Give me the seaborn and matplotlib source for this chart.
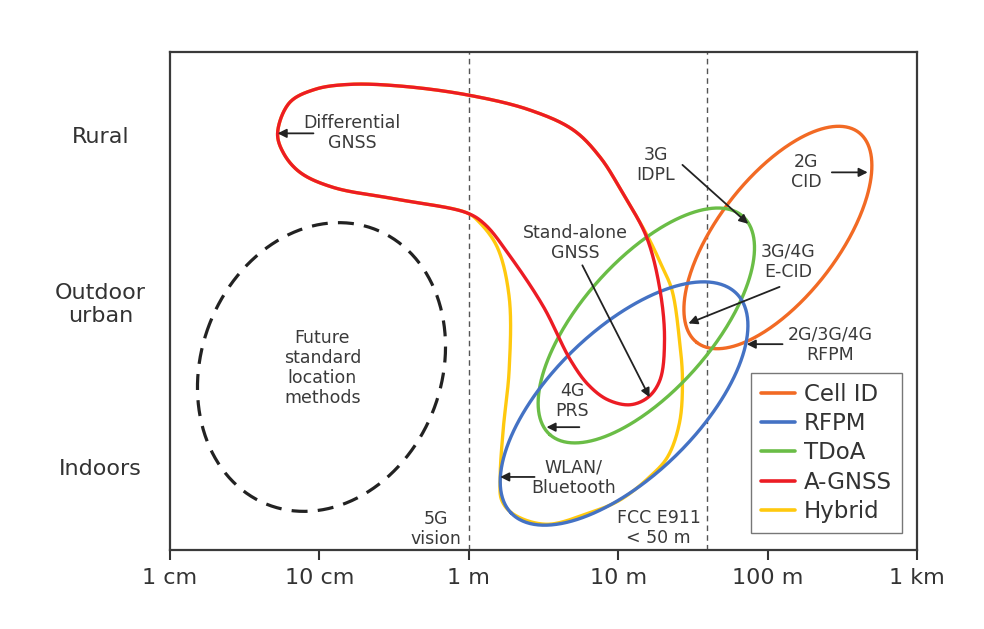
import numpy as np
import pandas as pd
import seaborn as sns
import matplotlib.pyplot as plt
from matplotlib.lines import Line2D
from matplotlib.ticker import NullLocator

# ---------------- data (x: log10 of accuracy in metres, y: environment level) ----------------
methods = ["Cell ID", "RFPM", "TDoA", "A-GNSS", "Hybrid"]
colors = ["#F26A24", "#4472C4", "#6ABD46", "#EC1C24", "#FFC90E"]

x_ticks_m = [0.01, 0.1, 1, 10, 100, 1000]
x_tick_labels = ["1 cm", "10 cm", "1 m", "10 m", "100 m", "1 km"]
y_ticks = [1, 3, 5]
y_tick_labels = ["Indoors", "Outdoor\nurban", "Rural"]

# boundary points
cellid_logd = [2.48, 2.62, 2.69, 2.67, 2.53, 2.33, 2.04, 1.82, 1.65, 1.53, 1.45, 1.43, 1.48, 1.59, 1.73, 2.04, 2.26]
cellid_lvl = [5.10, 5.02, 4.66, 4.25, 3.70, 3.22, 2.67, 2.49, 2.45, 2.51, 2.71, 3.01, 3.31, 3.73, 4.18, 4.73, 5.02]

rfpm_logd = [0.21, 0.22, 0.30, 0.52, 0.81, 1.15, 1.37, 1.59, 1.75, 1.84, 1.86, 1.82, 1.68, 1.55, 1.37, 1.15, 0.95, 0.66, 0.48, 0.32, 0.24]
rfpm_lvl = [0.88, 0.60, 0.43, 0.31, 0.45, 0.76, 1.08, 1.57, 1.99, 2.41, 2.73, 3.05, 3.20, 3.23, 3.19, 3.01, 2.77, 2.33, 1.93, 1.53, 1.20]

tdoa_logd = [1.59, 1.75, 1.86, 1.90, 1.86, 1.78, 1.59, 1.26, 0.93, 0.72, 0.56, 0.48, 0.46, 0.51, 0.61, 0.83, 1.17, 1.37]
tdoa_lvl = [4.13, 4.10, 3.89, 3.53, 3.13, 2.87, 2.33, 1.72, 1.41, 1.30, 1.36, 1.57, 1.89, 2.23, 2.61, 3.13, 3.71, 4.01]

agnss_logd = [-1.28, -1.20, -1.03, -0.80, -0.46, 0.00, 0.41, 0.70, 0.88, 1.03, 1.19, 1.28, 1.31, 1.28, 1.20,
              1.08, 0.93, 0.80, 0.68, 0.50, 0.28, 0.11, -0.01, -0.46, -0.91, -1.13, -1.24]
agnss_lvl = [5.02, 5.39, 5.55, 5.61, 5.59, 5.48, 5.30, 5.06, 4.73, 4.30, 3.77, 3.13, 2.53, 2.05, 1.84,
             1.75, 1.81, 1.99, 2.29, 2.93, 3.53, 3.92, 4.06, 4.22, 4.37, 4.55, 4.78]

hybrid_logd = [-1.28, -1.20, -1.03, -0.80, -0.46, 0.00, 0.41, 0.70, 0.88, 1.03, 1.20, 1.29, 1.36, 1.41, 1.43,
               1.41, 1.33, 1.21, 1.01, 0.81, 0.52, 0.30, 0.22, 0.21, 0.23, 0.27, 0.27, 0.19, 0.07,
               -0.01, -0.46, -0.91, -1.13, -1.24]
hybrid_lvl = [5.02, 5.39, 5.55, 5.61, 5.59, 5.48, 5.30, 5.06, 4.73, 4.30, 3.77, 3.43, 3.13, 2.53, 2.05,
              1.53, 1.12, 0.88, 0.60, 0.45, 0.31, 0.43, 0.60, 0.88, 1.45, 2.17, 3.05, 3.65, 3.95,
              4.06, 4.22, 4.37, 4.55, 4.78]

future_logd = [-0.84, -0.48, -0.21, -0.15, -0.17, -0.28, -0.55, -0.93, -1.18, -1.48, -1.73, -1.80, -1.71, -1.51, -1.26]
future_lvl = [3.94, 3.73, 3.01, 2.53, 2.20, 1.48, 0.88, 0.52, 0.45, 0.69, 1.17, 1.96, 2.86, 3.41, 3.73]

ref_lines_m = [1.0, 39.0]

# annotations: text, text position (logd, lvl), arrow tail, arrow head (or None)
ann_text = ["Differential\nGNSS", "Stand-alone\nGNSS", "3G\nIDPL", "2G\nCID", "3G/4G\nE-CID",
            "2G/3G/4G\nRFPM", "4G\nPRS", "WLAN/\nBluetooth", "Future\nstandard\nlocation\nmethods",
            "5G\nvision", "FCC E911\n< 50 m"]
ann_pos = [(-0.78, 5.02), (0.71, 3.70), (1.25, 4.64), (2.26, 4.55), (2.14, 3.47),
           (2.42, 2.47), (0.69, 1.80), (0.70, 0.87), (-0.98, 2.19), (-0.22, 0.25), (1.27, 0.27)]
ann_tail = [(-1.04, 5.02), (0.76, 3.43), (1.43, 4.64), (2.43, 4.55), (2.08, 3.17),
            (2.10, 2.48), (0.74, 1.48), (0.44, 0.88), None, None, None]
ann_head = [(-1.28, 5.02), (1.21, 1.84), (1.87, 3.93), (2.67, 4.55), (1.47, 2.73),
            (1.86, 2.48), (0.52, 1.48), (0.21, 0.88), None, None, None]

# ---------------- helpers ----------------
ASPECT = 83.0 / 149.4  # display size of one level relative to one decade


def to_frame(C):
    return pd.DataFrame({"dist": 10 ** C[:, 0], "level": C[:, 1] / ASPECT})


def smooth_closed(logd, lvl, n=40, alpha=0.5):
    P = np.column_stack([np.asarray(logd, float), np.asarray(lvl, float) * ASPECT])
    N = len(P)
    out = []
    for i in range(N):
        p0, p1, p2, p3 = P[i - 1], P[i], P[(i + 1) % N], P[(i + 2) % N]
        t0 = 0.0
        t1 = t0 + np.linalg.norm(p1 - p0) ** alpha
        t2 = t1 + np.linalg.norm(p2 - p1) ** alpha
        t3 = t2 + np.linalg.norm(p3 - p2) ** alpha
        t = np.linspace(t1, t2, n, endpoint=False)[:, None]
        A1 = (t1 - t) / (t1 - t0) * p0 + (t - t0) / (t1 - t0) * p1
        A2 = (t2 - t) / (t2 - t1) * p1 + (t - t1) / (t2 - t1) * p2
        A3 = (t3 - t) / (t3 - t2) * p2 + (t - t2) / (t3 - t2) * p3
        B1 = (t2 - t) / (t2 - t0) * A1 + (t - t0) / (t2 - t0) * A2
        B2 = (t3 - t) / (t3 - t1) * A2 + (t - t1) / (t3 - t1) * A3
        C = (t2 - t) / (t2 - t1) * B1 + (t - t1) / (t2 - t1) * B2
        out.append(C)
    return to_frame(np.vstack(out + [out[0][:1]]))


def fitted_ellipse(logd, lvl, n=400):
    x = np.asarray(logd, float)
    y = np.asarray(lvl, float) * ASPECT
    mx, my = x.mean(), y.mean()
    xs, ys = x - mx, y - my
    D = np.column_stack([xs * xs, xs * ys, ys * ys, xs, ys, np.ones_like(xs)])
    a, b, c, d, e, f = np.linalg.svd(D)[2][-1]
    M = np.array([[2 * a, b], [b, 2 * c]])
    x0, y0 = np.linalg.solve(M, [-d, -e])
    f0 = a * x0 ** 2 + b * x0 * y0 + c * y0 ** 2 + d * x0 + e * y0 + f
    Q = np.array([[a, b / 2], [b / 2, c]])
    ev, evec = np.linalg.eigh(Q)
    ax_len = np.sqrt(-f0 / ev)
    t = np.linspace(0, 2 * np.pi, n)
    pts = (evec @ (ax_len[:, None] * np.vstack([np.cos(t), np.sin(t)]))).T
    pts += np.array([x0 + mx, y0 + my])
    return to_frame(pts)


# ---------------- figure ----------------
sns.set_theme(style="white")
plt.rcParams["font.family"] = ["DejaVu Sans"]
plt.rcParams["text.color"] = "#333333"

fig, ax = plt.subplots(figsize=(9.84, 6.29), dpi=100)
fig.subplots_adjust(left=0.1728, right=0.9319, bottom=0.1256, top=0.9173)

ax.set_xscale("log")
ax.set_xlim(x_ticks_m[0], x_ticks_m[-1])
ax.set_ylim(0, 6)

for xm in ref_lines_m:
    ax.axvline(xm, color="#555555", lw=1.0, linestyle=(0, (4, 3)), zorder=1)

col = dict(zip(methods, colors))
curves = [
    ("Hybrid", smooth_closed(hybrid_logd, hybrid_lvl)),
    ("Cell ID", fitted_ellipse(cellid_logd, cellid_lvl)),
    ("TDoA", fitted_ellipse(tdoa_logd, tdoa_lvl)),
    ("RFPM", fitted_ellipse(rfpm_logd, rfpm_lvl)),
    ("A-GNSS", smooth_closed(agnss_logd, agnss_lvl)),
]
for k, (name, d) in enumerate(curves):
    sns.lineplot(data=d, x="dist", y="level", sort=False, estimator=None, ax=ax,
                 color=col[name], lw=2.4, zorder=3 + k)

fd = fitted_ellipse(future_logd, future_lvl)
sns.lineplot(data=fd, x="dist", y="level", sort=False, estimator=None, ax=ax,
             color="#222222", lw=2.3, linestyle=(0, (5, 3.2)), zorder=3)

for txt, pos, tail, head in zip(ann_text, ann_pos, ann_tail, ann_head):
    ax.text(10 ** pos[0], pos[1], txt, ha="center", va="center", fontsize=12.5,
            color="#3a3a3a", linespacing=1.15, zorder=10)
    if tail is not None:
        ax.annotate("", xy=(10 ** head[0], head[1]), xytext=(10 ** tail[0], tail[1]),
                    arrowprops=dict(arrowstyle="-|>", color="#222222", lw=1.3,
                                    mutation_scale=13, shrinkA=0, shrinkB=0), zorder=10)

# axes styling
ax.set_xticks(x_ticks_m)
ax.set_xticklabels(x_tick_labels)
ax.xaxis.set_minor_locator(NullLocator())
ax.set_yticks(y_ticks)
ax.set_yticklabels(y_tick_labels)
for lab in ax.get_yticklabels():
    lab.set_ha("center")
ax.tick_params(axis="x", direction="out", length=7, width=1.5, color="#333333",
               labelsize=16, pad=6, labelcolor="#333333", bottom=True)
ax.tick_params(axis="y", length=0, pad=50, labelsize=16, labelcolor="#333333")
for sp in ax.spines.values():
    sp.set_color("#3a3a3a")
    sp.set_linewidth(1.6)
ax.set_xlabel("")
ax.set_ylabel("")

handles = [Line2D([0], [0], color=c, lw=2.6) for c in colors]
leg = ax.legend(handles, methods, loc="lower left", bbox_to_anchor=(0.778, 0.034),
                borderaxespad=0, frameon=True, fancybox=False, edgecolor="#555555",
                fontsize=16.5, handlelength=1.45, handletextpad=0.4, labelspacing=0.27,
                borderpad=0.45)
leg.get_frame().set_linewidth(1.0)
leg.set_zorder(20)
for t in leg.get_texts():
    t.set_color("#333333")

fig.savefig("out.png", dpi=100, facecolor="white")
